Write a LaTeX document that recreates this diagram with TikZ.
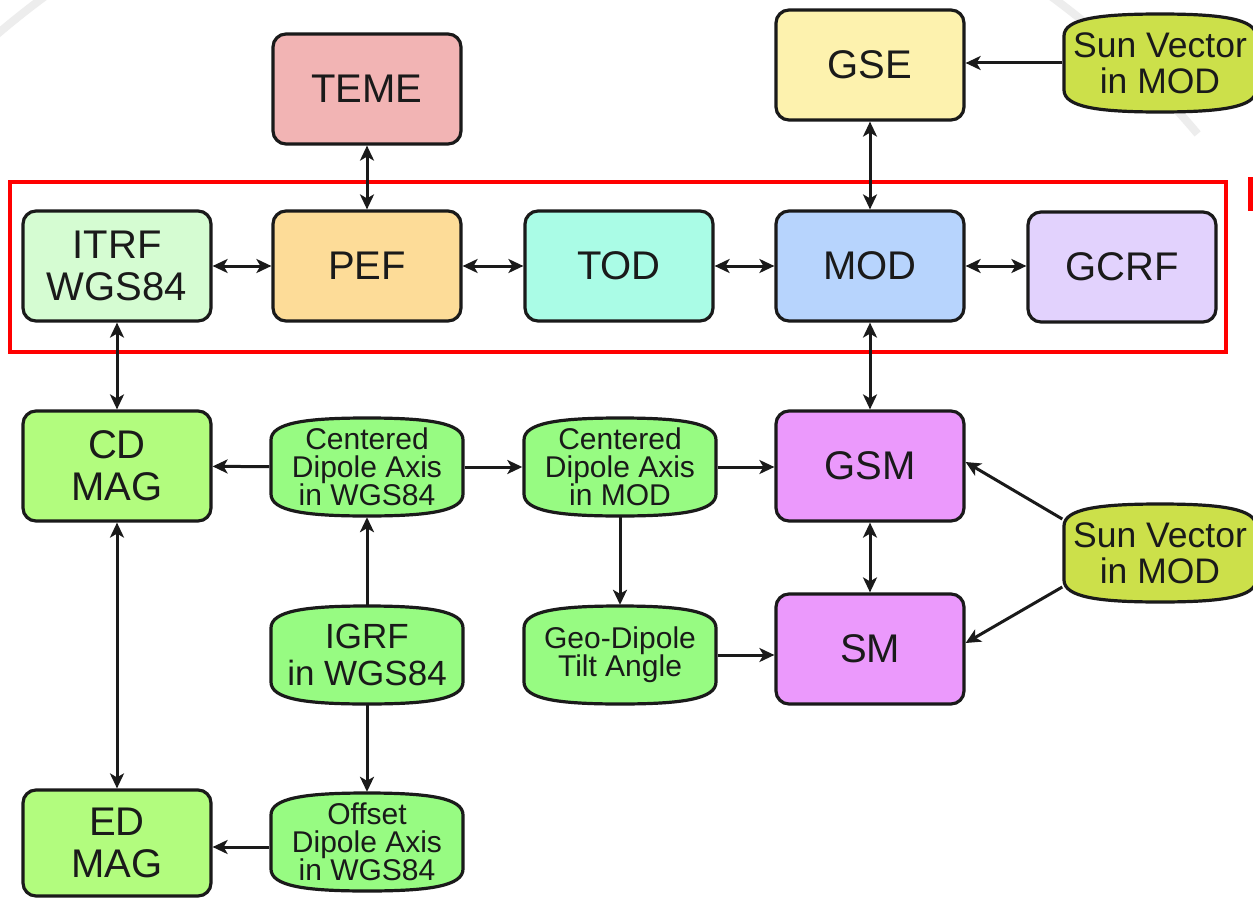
\documentclass[tikz,border=0pt]{standalone}
\usepackage{fontspec}
\setmainfont{Liberation Sans}
\usetikzlibrary{arrows.meta,calc}

\definecolor{cTEME}{HTML}{F2B4B4}
\definecolor{cGSE}{HTML}{FDF2AE}
\definecolor{cITRF}{HTML}{D5FCD2}
\definecolor{cPEF}{HTML}{FDDC98}
\definecolor{cTOD}{HTML}{AAFCE6}
\definecolor{cMOD}{HTML}{B7D4FD}
\definecolor{cGCRF}{HTML}{E2D2FD}
\definecolor{cMAG}{HTML}{B2FC7E}
\definecolor{cGSM}{HTML}{EB99FC}
\definecolor{cData}{HTML}{97FB82}
\definecolor{cSun}{HTML}{CCE04A}
\definecolor{cRing}{HTML}{EDEDED}
\definecolor{cInk}{HTML}{1A1A1A}

\tikzset{
  cbox/.style={draw=cInk, line width=3.2pt, rounded corners=13pt,
    minimum width=188pt, minimum height=110pt, inner sep=0pt, align=center,
    text=cInk, font=\fontsize{40}{42}\selectfont},
  dtext/.style={minimum width=195pt, minimum height=100pt, inner sep=0pt,
    align=center, text=cInk},
  dline/.style={draw=cInk, line width=3.2pt},
  arw/.tip={Stealth[length=15pt,width=14pt,inset=4pt]},
  link/.style={line width=3pt, draw=cInk, -arw},
  dlink/.style={line width=3pt, draw=cInk, arw-arw},
}

% data shape: straight sides, bulging top and bottom
% #1 name, #2 centre, #3 fill, #4 font size, #5 line skip, #6 text
\newcommand\datanode[6]{%
  \draw[dline, fill=#3, shift={#2}]
    (-96,-27) .. controls (-96,-44) and (-62,-49) .. (0,-49)
    .. controls (62,-49) and (96,-44) .. (96,-27) -- (96,27)
    .. controls (96,44) and (62,49) .. (0,49)
    .. controls (-62,49) and (-96,44) .. (-96,27) -- cycle;
  \node[dtext, font=\fontsize{#4}{#5}\selectfont] (#1) at #2 {#6};
}

\begin{document}
\begin{tikzpicture}[x=1pt, y=-1pt]
\useasboundingbox (0,0) rectangle (1253,899);
\fill[white] (0,0) rectangle (1253,899);
\clip (0,0) rectangle (1253,899);

% faint ring in the background
\coordinate (ringc) at (548,679);
\draw[cRing, line width=8pt] ([shift={(131:848pt)}]ringc) arc[start angle=131, end angle=124, radius=848pt];
\draw[cRing, line width=8pt] ([shift={(56:848pt)}]ringc) arc[start angle=56, end angle=40, radius=848pt];

% highlight frame around the main chain
\draw[red, line width=4pt] (10,182) rectangle (1226,352);
\draw[red, line width=5pt] (1250.5,177) -- (1250.5,211);

% frames
\node[cbox, fill=cTEME] (teme) at (367,89) {TEME};
\node[cbox, fill=cGSE] (gse) at (870,65) {GSE};
\node[cbox, fill=cITRF] (itrf) at (117,266) {ITRF\\WGS84};
\node[cbox, fill=cPEF] (pef) at (367,266) {PEF};
\node[cbox, fill=cTOD] (tod) at (619,266) {TOD};
\node[cbox, fill=cMOD] (mod) at (870,266) {MOD};
\node[cbox, fill=cGCRF] (gcrf) at (1122,267) {GCRF};
\node[cbox, fill=cMAG] (cdmag) at (117,466) {CD\\MAG};
\node[cbox, fill=cGSM] (gsm) at (870,466) {GSM};
\node[cbox, fill=cGSM] (sm) at (870,649) {SM};
\node[cbox, fill=cMAG, minimum height=106pt] (edmag) at (117,843) {ED\\MAG};

% data inputs
\datanode{sun1}{(1160,63)}{cSun}{35.5}{36}{Sun Vector\\in MOD}
\datanode{sun2}{(1160,553)}{cSun}{35.5}{36}{Sun Vector\\in MOD}
\datanode{cdwgs}{(367,467)}{cData}{30}{28}{Centered\\Dipole Axis\\in WGS84}
\datanode{cdmod}{(620,467)}{cData}{30}{28}{Centered\\Dipole Axis\\in MOD}
\datanode{igrf}{(367,655)}{cData}{35}{37}{IGRF\\in WGS84}
\datanode{tilt}{(620,655)}{cData}{30}{28}{Geo-Dipole\\Tilt Angle}
\datanode{odwgs}{(367,842)}{cData}{30}{28}{Offset\\Dipole Axis\\in WGS84}

% transformations
\draw[dlink] (teme) -- (pef);
\draw[dlink] (gse) -- (mod);
\draw[link] (sun1.west) -- (gse.east |- sun1.west);
\draw[dlink] (itrf) -- (pef);
\draw[dlink] (pef) -- (tod);
\draw[dlink] (tod) -- (mod);
\draw[dlink] (mod) -- (gcrf.west |- mod.east);
\draw[dlink] (itrf) -- (cdmag);
\draw[dlink] (mod) -- (gsm);
\draw[link] (cdwgs) -- (cdmag);
\draw[link] (cdwgs) -- (cdmod);
\draw[link] (cdmod) -- (gsm.west |- cdmod.east);
\draw[link] (igrf) -- (cdwgs);
\draw[link] (cdmod) -- (tilt);
\draw[link] (tilt.east) -- (sm.west |- tilt.east);
\draw[dlink] (gsm) -- (sm);
\draw[link] ([yshift=34pt]sun2.west) -- ([yshift=4pt]gsm.east);
\draw[link] ([yshift=-34pt]sun2.west) -- ([yshift=6pt]sm.east);
\draw[dlink] (cdmag) -- (edmag);
\draw[link] (igrf) -- (odwgs);
\draw[link] ([yshift=-5pt]odwgs.west) -- ([yshift=-5pt]odwgs.west -| edmag.east);
\end{tikzpicture}
\end{document}
